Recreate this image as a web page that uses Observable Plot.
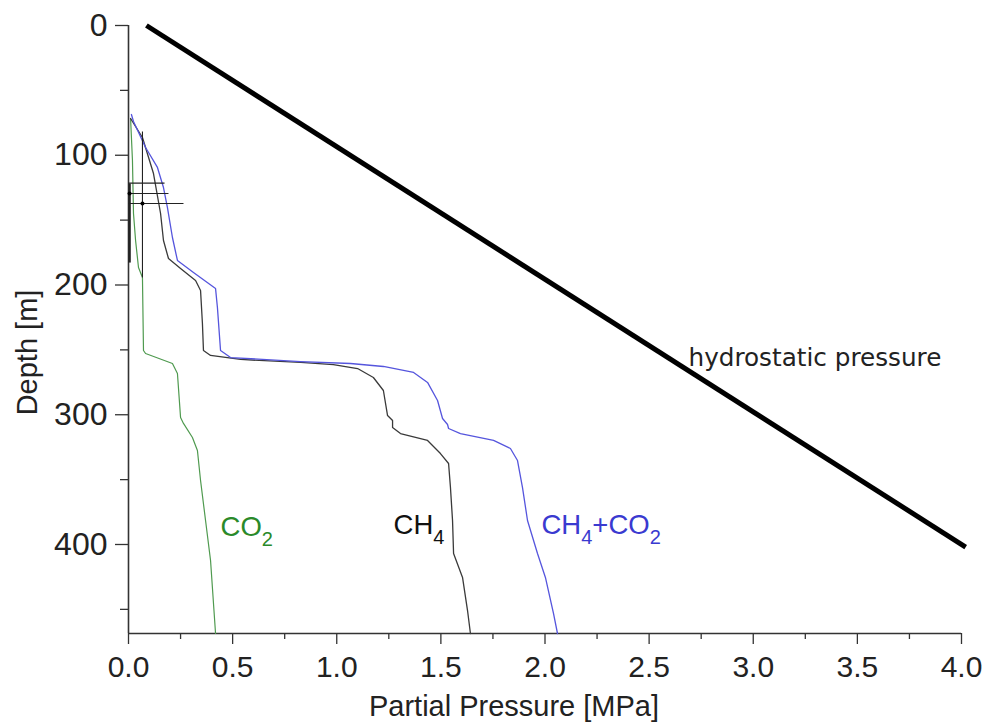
<!DOCTYPE html>
<html>
<head>
<meta charset="utf-8">
<script src="https://cdn.jsdelivr.net/npm/d3@7"></script>
<script src="https://cdn.jsdelivr.net/npm/@observablehq/plot@0.6"></script>
<style>
  body { margin: 0; background: #fff; }
</style>
</head>
<body>
<div id="chart"></div>
<script>
// Partial pressure profiles of dissolved gases versus depth (m)
const ch4Depth    = [71.7, 86.3, 114.1, 144.9, 165.7, 179.6, 187.3, 196.5, 204.2, 229.7, 250.5, 254.3, 257.4, 259.7, 261.3, 264.4, 271.3, 281.3, 300.6, 304.4, 309.8, 314.5, 319.8, 329.9, 337.6, 356.1, 381.5, 406.9, 425.4, 450.9, 468.6];
const ch4Pressure = [0.010, 0.067, 0.120, 0.154, 0.168, 0.192, 0.250, 0.322, 0.346, 0.355, 0.360, 0.394, 0.538, 0.826, 0.984, 1.100, 1.176, 1.224, 1.244, 1.268, 1.268, 1.306, 1.436, 1.498, 1.537, 1.546, 1.556, 1.561, 1.604, 1.628, 1.642];

const sumDepth    = [68.6, 74.0, 94.0, 109.4, 124.9, 140.3, 163.4, 181.1, 190.4, 202.7, 217.3, 250.5, 255.9, 259.0, 260.5, 262.8, 267.4, 275.1, 289.0, 302.9, 307.5, 310.6, 314.5, 319.8, 326.0, 335.3, 356.1, 381.5, 406.9, 425.4, 453.2, 468.6];
const sumPressure = [0.014, 0.024, 0.082, 0.139, 0.168, 0.187, 0.211, 0.235, 0.312, 0.418, 0.427, 0.442, 0.490, 0.826, 1.066, 1.224, 1.369, 1.436, 1.484, 1.508, 1.532, 1.537, 1.594, 1.753, 1.834, 1.868, 1.892, 1.916, 1.964, 2.002, 2.041, 2.060];

const co2Depth    = [71.7, 104.0, 144.9, 165.7, 186.5, 194.2, 250.5, 252.8, 260.5, 268.2, 302.1, 306.7, 317.5, 327.6, 350.7, 381.5, 412.3, 468.6];
const co2Pressure = [0.010, 0.019, 0.024, 0.034, 0.048, 0.067, 0.072, 0.082, 0.211, 0.235, 0.250, 0.264, 0.307, 0.331, 0.346, 0.370, 0.394, 0.418];

const hydroDepth    = [0, 402];
const hydroPressure = [0.086, 4.02];

// Measured points with their error ranges
const measPressure = [0.067, 0.005, 0.0];
const measDepth    = [137.2, 129.5, 121.5];
const measPLow     = [0.0, 0.0, 0.0];
const measPHigh    = [0.264, 0.192, 0.173];
const measDLow     = [81.7, 121.8, 121.5];
const measDHigh    = [194.2, 182.7, 121.5];

// Axis ticks
const xTicks = [0, 0.5, 1.0, 1.5, 2.0, 2.5, 3.0, 3.5, 4.0];
const xMinorTicks = [0.25, 0.75, 1.25, 1.75, 2.25, 2.75, 3.25, 3.75];
const yTicks = [0, 100, 200, 300, 400];
const yMinorTicks = [50, 150, 250, 350, 450];
const depthMax = 468.6;

// Curve labels
const labelText  = ["CO2", "CH4", "CH4+CO2", "hydrostatic pressure"];
const labelX     = [0.442, 1.273, 1.983, 2.689];
const labelDepth = [387, 385.5, 385.5, 256];
const labelColor = ["#2a8a2a", "#111111", "#3a3ad0", "#222222"];

const toRows = (p, d) => p.map((v, i) => ({p: v, d: d[i]}));
const ch4 = toRows(ch4Pressure, ch4Depth);
const sum = toRows(sumPressure, sumDepth);
const co2 = toRows(co2Pressure, co2Depth);
const hydro = toRows(hydroPressure, hydroDepth);
const meas = measPressure.map((v, i) => ({
  p: v, d: measDepth[i], p0: measPLow[i], p1: measPHigh[i], d0: measDLow[i], d1: measDHigh[i]
}));
const labels = labelText.map((t, i) => ({text: t, p: labelX[i], d: labelDepth[i], color: labelColor[i]}));
const curveLabels = labels.slice(0, 3);
const hydroLabel = labels.slice(3);

const axisFont = "'Liberation Sans', Arial, sans-serif";

const chart = Plot.plot({
  width: 987,
  height: 728,
  marginLeft: 128,
  marginRight: 26,
  marginTop: 25,
  marginBottom: 95,
  style: {fontFamily: axisFont, background: "#fff", color: "#222"},
  x: {domain: [0, 4]},
  y: {domain: [0, depthMax], reverse: true},
  marks: [
    // minor ticks
    Plot.axisX({ticks: xMinorTicks, tickSize: 6, tickFormat: () => "", label: null, stroke: "#333", strokeWidth: 1.3}),
    Plot.axisY({ticks: yMinorTicks, tickSize: 8, tickFormat: () => "", label: null, stroke: "#333", strokeWidth: 1.3}),
    // major ticks with labels
    Plot.axisX({ticks: xTicks, tickSize: 11, tickPadding: 11, tickFormat: d3.format(".1f"), label: null,
      fontSize: 30, fill: "#222", stroke: "#333", strokeWidth: 1.3}),
    Plot.axisY({ticks: yTicks, tickSize: 13, tickPadding: 8, tickFormat: d3.format("d"), label: null,
      fontSize: 32, fill: "#222", stroke: "#333", strokeWidth: 1.3}),
    // axis lines
    Plot.ruleX([0], {stroke: "#333", strokeWidth: 1.6}),
    Plot.ruleY([depthMax], {stroke: "#333", strokeWidth: 1.6}),
    // axis titles
    Plot.text(["Partial Pressure [MPa]"], {frameAnchor: "bottom", dx: -31, dy: 73, textAnchor: "middle",
      lineAnchor: "middle", fontSize: 29, fill: "#222"}),
    Plot.text(["Depth [m]"], {frameAnchor: "left", dx: -101, dy: 23, rotate: -90, textAnchor: "middle",
      lineAnchor: "middle", fontSize: 29, fill: "#222"}),
    // hydrostatic pressure
    Plot.line(hydro, {x: "p", y: "d", stroke: "#000", strokeWidth: 5, strokeLinecap: "butt"}),
    // gas profiles
    Plot.line(co2, {x: "p", y: "d", stroke: "#4f9a4f", strokeWidth: 1.2}),
    Plot.line(ch4, {x: "p", y: "d", stroke: "#3a3a3a", strokeWidth: 1.3}),
    Plot.line(sum, {x: "p", y: "d", stroke: "#5555dd", strokeWidth: 1.3}),
    // measurements with error bars
    Plot.link(meas, {x1: "p0", x2: "p1", y1: "d", y2: "d", stroke: "#222", strokeWidth: 1.1}),
    Plot.link(meas.slice(0, 1), {x1: "p", x2: "p", y1: "d0", y2: "d1", stroke: "#222", strokeWidth: 1.1}),
    Plot.link(meas.slice(1, 2), {x1: "p", x2: "p", y1: "d0", y2: "d1", stroke: "#222", strokeWidth: 2.5}),
    Plot.dot(meas.slice(0, 2), {x: "p", y: "d", r: 2, fill: "#000"}),
    // labels
    Plot.text(curveLabels, {x: "p", y: "d", text: "text", fill: "color", textAnchor: "start",
      fontSize: 27.5, fontFamily: axisFont}),
    Plot.text(hydroLabel, {x: "p", y: "d", text: "text", fill: "color", textAnchor: "start",
      fontSize: 24.7, fontFamily: "'DejaVu Sans', sans-serif"})
  ]
});

// Render digits in chemical formulas as subscripts
d3.select(chart).selectAll("text").each(function() {
  const t = this.textContent;
  if (!/^(CO2|CH4|CH4\+CO2)$/.test(t)) return;
  const el = d3.select(this);
  el.text(null);
  const parts = t.match(/[0-9]+|[^0-9]+/g);
  let down = false;
  for (const part of parts) {
    const isDigit = /^[0-9]+$/.test(part);
    const ts = el.append("tspan").text(part);
    if (isDigit) {
      ts.attr("font-size", 20).attr("dy", 10);
      down = true;
    } else if (down) {
      ts.attr("dy", -10);
      down = false;
    }
  }
});

document.getElementById("chart").appendChild(chart);
</script>
</body>
</html>
